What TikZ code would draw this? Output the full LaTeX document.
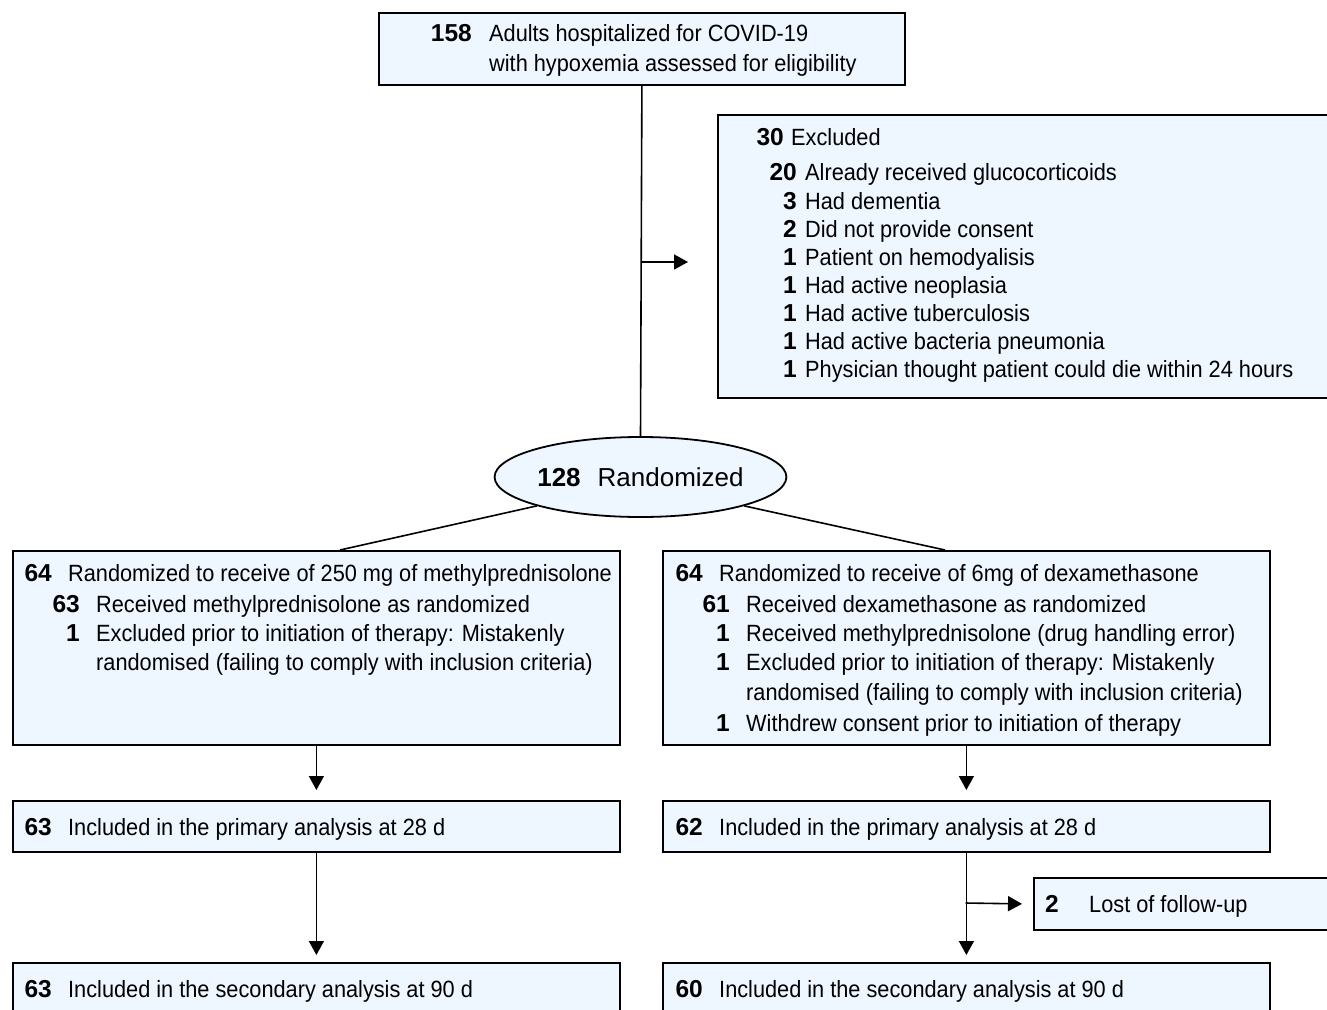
\documentclass[tikz,border=0pt]{standalone}
\usepackage{fontspec}
\setmainfont{Liberation Sans}
\newfontfamily\cond[FakeStretch=0.925]{Liberation Sans}
\usetikzlibrary{arrows.meta,shapes.geometric}
\definecolor{boxfill}{RGB}{238,246,255}
\tikzset{
  box/.style={draw=black, fill=boxfill, line width=1.8pt, anchor=north west, inner sep=0pt},
  num/.style={anchor=base east, inner sep=0pt, font=\fontsize{24.5}{28}\selectfont\bfseries},
  txt/.style={anchor=base west, inner sep=0pt, font=\cond\fontsize{23.5}{28}\selectfont},
  conn/.style={line width=1.6pt},
  arr/.style={line width=1.6pt, -{Triangle[length=14pt,width=15pt]}},
}
\begin{document}
\begin{tikzpicture}[x=1pt,y=-1pt]
\useasboundingbox (0,0) rectangle (1327,1009);
% boxes
\node[box, minimum width=526, minimum height=72] (screen) at (378,12) {};
\node[box, minimum width=625, minimum height=283] (excl) at (717,114) {};
\node[ellipse, draw=black, fill=boxfill, line width=1.8pt, minimum width=285, minimum height=80, inner sep=0pt,
      font=\fontsize{26}{30}\selectfont] (rand) at (640.5,477) {\textbf{128}\hspace{17pt}Randomized};
\node[box, minimum width=607, minimum height=194] (lrand) at (12,550) {};
\node[box, minimum width=607, minimum height=194] (rrand) at (662,550) {};
\node[box, minimum width=607, minimum height=51] (lprim) at (12,800) {};
\node[box, minimum width=607, minimum height=51] (rprim) at (662,800) {};
\node[box, minimum width=310, minimum height=52] (lost) at (1033,877) {};
\node[box, minimum width=607, minimum height=70] (lsec) at (12,962) {};
\node[box, minimum width=607, minimum height=70] (rsec) at (662,962) {};
% connectors
\draw[conn] (screen.south) -- (rand.north);
\coordinate (exA) at (641,262);
\coordinate (exB) at (688,262);
\draw[arr] (exA) -- (exB);
\coordinate (lTop) at (340,550);
\coordinate (rTop) at (945,550);
\draw[conn] (rand.south west) -- (lTop);
\draw[conn] (rand.south east) -- (rTop);
\draw[arr] (lrand.south) -- ([yshift=10pt]lprim.north);
\draw[arr] (rrand.south) -- ([yshift=10pt]rprim.north);
\draw[arr] (lprim.south) -- ([yshift=7pt]lsec.north);
\draw[arr] (rprim.south) -- ([yshift=7pt]rsec.north);
\coordinate (br) at (965.5,903);
\draw[arr] (br) -- ([xshift=-11pt]lost.west);
% screening text
\node[num] (n158) at (472,41) {158};
\node[txt] (t158a) at (489,41) {Adults hospitalized for COVID-19};
\node[txt] (t158b) at (489,71) {with hypoxemia assessed for eligibility};
% excluded text
\node[num] (n30) at (784,145) {30};
\node[txt] (t30) at (791,145) {Excluded};
\node[num] (n20) at (797,180) {20};
\node[txt] (t20) at (805,180) {Already received glucocorticoids};
\node[num] (ne1) at (797,209) {3};
\node[txt] (te1) at (805,209) {Had dementia};
\node[num] (ne2) at (797,237) {2};
\node[txt] (te2) at (805,237) {Did not provide consent};
\node[num] (ne3) at (797,265) {1};
\node[txt] (te3) at (805,265) {Patient on hemodyalisis};
\node[num] (ne4) at (797,293) {1};
\node[txt] (te4) at (805,293) {Had active neoplasia};
\node[num] (ne5) at (797,321) {1};
\node[txt] (te5) at (805,321) {Had active tuberculosis};
\node[num] (ne6) at (797,349) {1};
\node[txt] (te6) at (805,349) {Had active bacteria pneumonia};
\node[num] (ne7) at (797,377) {1};
\node[txt] (te7) at (805,377) {Physician thought patient could die within 24 hours};
% left randomized box
\node[num] (nl1) at (52,581) {64};
\node[txt] (tl1) at (68,581) {Randomized to receive of 250 mg of methylprednisolone};
\node[num] (nl2) at (80,612) {63};
\node[txt] (tl2) at (96,612) {Received methylprednisolone as randomized};
\node[num] (nl3) at (80,641) {1};
\node[txt] (tl3) at (96,641) {Excluded prior to initiation of therapy: Mistakenly};
\node[txt] (tl4) at (96,670) {randomised (failing to comply with inclusion criteria)};
% right randomized box
\node[num] (nr1) at (703,581) {64};
\node[txt] (tr1) at (719,581) {Randomized to receive of 6mg of dexamethasone};
\node[num] (nr2) at (730,612) {61};
\node[txt] (tr2) at (746,612) {Received dexamethasone as randomized};
\node[num] (nr3) at (730,641) {1};
\node[txt] (tr3) at (746,641) {Received methylprednisolone (drug handling error)};
\node[num] (nr4) at (730,670) {1};
\node[txt] (tr4) at (746,670) {Excluded prior to initiation of therapy: Mistakenly};
\node[txt] (tr5) at (746,700) {randomised (failing to comply with inclusion criteria)};
\node[num] (nr6) at (730,731) {1};
\node[txt] (tr6) at (746,731) {Withdrew consent prior to initiation of therapy};
% primary
\node[num] (nlp) at (52,835) {63};
\node[txt] (tlp) at (68,835) {Included in the primary analysis at 28 d};
\node[num] (nrp) at (703,835) {62};
\node[txt] (trp) at (719,835) {Included in the primary analysis at 28 d};
% lost
\node[num] (nlost) at (1059,912) {2};
\node[txt] (tlost) at (1089,912) {Lost of follow-up};
% secondary
\node[num] (nls) at (52,997) {63};
\node[txt] (tls) at (68,997) {Included in the secondary analysis at 90 d};
\node[num] (nrs) at (703,997) {60};
\node[txt] (trs) at (719,997) {Included in the secondary analysis at 90 d};
\end{tikzpicture}
\end{document}
